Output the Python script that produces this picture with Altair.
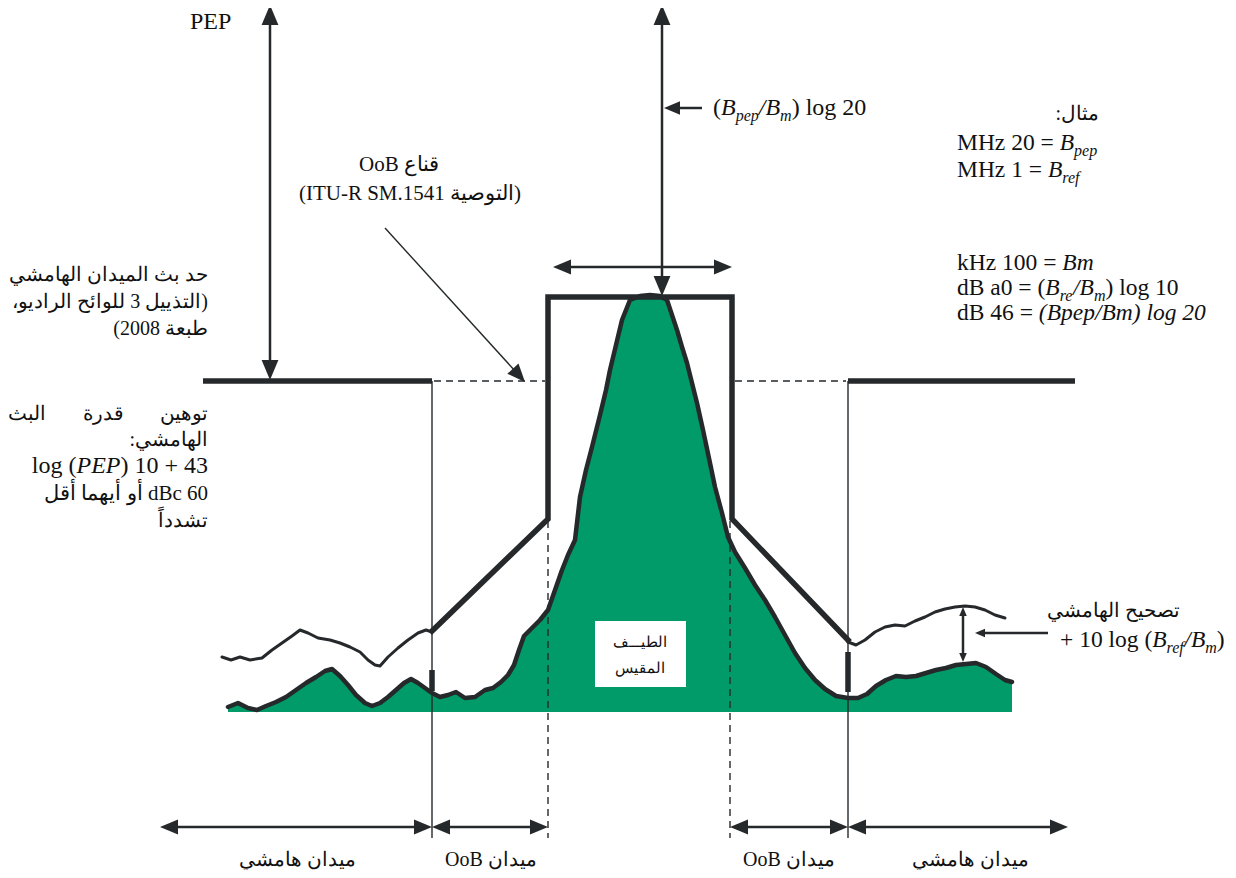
import math
import altair as alt
import pandas as pd

INK = "#25292b"
TXT = "#111111"
GREEN = "#009b68"
SERIF = "Liberation Serif"

# ---------------- data (frequency position, level) -------------
spectrum_trace = [
    (228, 707), (238, 703), (248, 708), (257, 710), (266, 706), (276, 702), (286, 697),
    (296, 690), (306, 683), (316, 677), (325, 671), (332, 669), (340, 676), (348, 685),
    (356, 695), (365, 703), (372, 706), (380, 703), (388, 697), (396, 690), (404, 683),
    (411, 679), (418, 683), (425, 688), (432, 693), (440, 697), (448, 695), (456, 692),
    (465, 698), (475, 697), (485, 690), (493, 688), (501, 682), (508, 675), (514, 665),
    (519, 650), (524, 636), (532, 628), (540, 620), (548, 610), (555, 590), (562, 570),
    (568, 555), (575, 540), (580, 497), (586, 470), (592, 447), (600, 415), (606, 390),
    (610, 370), (616, 345), (622, 320), (630, 300), (640, 296), (650, 295), (660, 296),
    (667, 300), (672, 315), (677, 330), (682, 347), (687, 363), (692, 383), (697, 403),
    (703, 430), (710, 463), (715, 487), (722, 513), (728, 537), (735, 552), (745, 568),
    (755, 585), (765, 600), (775, 617), (785, 635), (795, 653), (805, 668), (815, 680),
    (825, 689), (836, 696), (848, 698), (858, 698), (867, 694), (876, 686), (886, 680),
    (896, 676), (906, 677), (916, 676), (926, 673), (936, 670), (946, 668), (956, 665),
    (966, 664), (976, 663), (986, 667), (996, 674), (1005, 680), (1012, 682),
]
spectrum_floor = 712

upper_left_trace = [
    (222, 657), (231, 660), (240, 657), (250, 660), (262, 658), (272, 650), (282, 643),
    (292, 636), (300, 630), (308, 633), (318, 638), (330, 640), (340, 643), (350, 647),
    (360, 652), (368, 660), (375, 665), (380, 666), (388, 657), (398, 648), (408, 640),
    (418, 633), (426, 630), (432, 632),
]
upper_right_trace = [
    (848, 642), (856, 645), (865, 640), (875, 632), (885, 627), (895, 625), (905, 626),
    (915, 621), (925, 617), (935, 612), (945, 609), (955, 607), (965, 606), (975, 607),
    (985, 610), (995, 615), (1005, 618),
]

# OoB mask outline (corner points)
mask_outline = [(432, 631), (548, 519), (548, 297), (732, 297), (732, 519), (848, 640)]

# straight segments: x1, y1, x2, y2
thick_segments = [(203, 381, 432, 381), (848, 381, 1075, 381),
                  (432, 670, 432, 691), (848, 652, 848, 692)]
shaft_segments = [(270, 20, 270, 366), (662, 20, 662, 282), (676, 108, 702, 108),
                  (566, 267, 720, 267), (172, 827, 420, 827), (444, 827, 536, 827),
                  (742, 827, 836, 827), (860, 827, 1056, 827), (963, 614, 963, 656),
                  (980, 633, 1048, 633)]
thin_segments = [(262, 5, 672, 5), (432, 381, 432, 838), (848, 381, 848, 838),
                 (385, 228, 516, 372)]
dashed_segments = [(434, 381, 545, 381), (735, 381, 846, 381),
                   (548, 521, 548, 838), (730, 521, 730, 838)]

# arrow heads: tip x, tip y, direction (deg clockwise from up), length
arrow_heads = [(270, 5, 0, 20), (270, 380, 180, 20), (662, 5, 0, 20), (662, 296, 180, 20),
               (664, 108, 270, 16), (553, 267, 270, 18), (732, 267, 90, 18),
               (963, 607, 0, 9), (963, 662, 180, 9), (975, 633, 270, 10),
               (160, 827, 270, 18), (432, 827, 90, 18), (432, 827, 270, 18),
               (548, 827, 90, 18), (730, 827, 270, 18), (848, 827, 90, 18),
               (848, 827, 270, 18), (1068, 827, 90, 18)]
pointer_from, pointer_to = (385, 228), (525, 382)
pointer_angle = math.degrees(math.atan2(pointer_to[0] - pointer_from[0],
                                        -(pointer_to[1] - pointer_from[1]))) % 360
arrow_heads.append((pointer_to[0], pointer_to[1], pointer_angle, 18))

label_box = (595, 621, 686, 687)

RLE, PDF = "\u202b", "\u202c"


def rtl(s):
    """Arabic paragraph text: laid out right-to-left like the source document."""
    return RLE + s + PDF


# plain labels: text, x, baseline y, size, align
plain_labels = [
    ("PEP", 190, 29, 24, "left"),
    (rtl("مثال:"), 1099, 120, 20, "right"),
    (rtl("قناع OoB"), 399, 171, 21, "center"),
    (rtl("(التوصية ITU-R SM.1541)"), 410, 200, 21, "center"),
    (rtl("حد بث الميدان الهامشي"), 208, 281, 20, "right"),
    (rtl("(التذييل 3 للوائح الراديو،"), 208, 308, 20, "right"),
    (rtl("طبعة 2008)"), 208, 335, 20, "right"),
    ("توهين", 208, 420, 20, "right"),
    ("قدرة", 103, 420, 20, "center"),
    ("البث", 8, 420, 20, "left"),
    (rtl("الهامشي:"), 208, 446, 20, "right"),
    (rtl("60 dBc أو أيهما أقل"), 208, 500, 21, "right"),
    (rtl("تشدداً"), 208, 527, 20, "right"),
    ("الطيـــف", 640, 647, 15, "center"),
    ("المقيس", 640, 673, 15, "center"),
    (rtl("تصحيح الهامشي"), 1180, 617, 20, "right"),
    (rtl("ميدان هامشي"), 297, 866, 20, "center"),
    (rtl("ميدان OoB"), 491, 866, 20, "center"),
    (rtl("ميدان OoB"), 789, 866, 20, "center"),
    (rtl("ميدان هامشي"), 970, 866, 20, "center"),
]

# ---------------- rich (sub-scripted / italic) formula runs ----------------
REG = {' ': 250, '(': 333, ')': 333, '/': 278, '=': 564, '+': 564, '-': 333, '.': 250,
       'a': 444, 'b': 500, 'c': 444, 'd': 500, 'e': 444, 'f': 333, 'g': 500, 'h': 500,
       'i': 278, 'k': 500, 'l': 278, 'm': 778, 'n': 500, 'o': 500, 'p': 500, 'r': 333,
       's': 389, 't': 278, 'u': 500, 'y': 500, 'z': 444, 'B': 667, 'E': 611, 'H': 722,
       'M': 889, 'O': 722, 'P': 556, 'R': 667, 'S': 556, 'T': 611, 'U': 722, 'I': 333}
ITA = {' ': 250, '(': 333, ')': 333, '/': 278, 'a': 500, 'b': 500, 'e': 444, 'f': 278,
       'g': 500, 'l': 278, 'm': 722, 'o': 500, 'p': 500, 'r': 389, 'B': 611, 'E': 611,
       'P': 611}


def text_width(s, style, size):
    table = ITA if style == "italic" else REG
    return sum(table.get(ch, 500) for ch in s) / 1000.0 * size


def rich(x, y, parts, size=23.5, align="left"):
    sub = round(size * 0.68)
    items, cx = [], 0.0
    for txt, style, kind in parts:
        fs = size if kind == "b" else sub
        dy = 0 if kind == "b" else size * 0.27
        lead = len(txt) - len(txt.lstrip(" "))
        items.append(dict(x=cx + text_width(" " * lead, style, fs), y=y + dy,
                          text=txt.strip(" "), size=fs, style=style))
        cx += text_width(txt, style, fs)
    shift = x if align == "left" else x - cx
    for it in items:
        it["x"] += shift
    return items


N, I = "normal", "italic"
rich_items = []
rich_items += rich(713, 115, [("(", N, "b"), ("B", I, "b"), ("pep", I, "s"), ("/", I, "b"),
                              ("B", I, "b"), ("m", I, "s"), (")", N, "b"), (" log 20", N, "b")],
                   size=24)
rich_items += rich(957, 150, [("MHz 20 = ", N, "b"), ("B", I, "b"), ("pep", I, "s")])
rich_items += rich(957, 177, [("MHz 1 = ", N, "b"), ("B", I, "b"), ("ref", I, "s")])
rich_items += rich(957, 270, [("kHz 100 = ", N, "b"), ("Bm", I, "b")])
rich_items += rich(957, 295, [("dB a0 = (", N, "b"), ("B", I, "b"), ("re", I, "s"), ("/", I, "b"),
                              ("B", I, "b"), ("m", I, "s"), (")", N, "b"), (" log 10", N, "b")])
rich_items += rich(957, 320, [("dB 46 = ", N, "b"), ("(Bpep/Bm) log 20", I, "b")])
rich_items += rich(1060, 647, [("+ 10 log (", N, "b"), ("B", I, "b"), ("ref", I, "s"),
                               ("/", I, "b"), ("B", I, "b"), ("m", I, "s"), (")", N, "b")])
rich_items += rich(208, 473, [("log (", N, "b"), ("PEP", I, "b"), (") 10 + 43", N, "b")],
                   size=24, align="right")

# ---------------- chart ----------------
XS = alt.Scale(domain=[8, 1228], nice=False, zero=False)
YS = alt.Scale(domain=[8, 870], nice=False, zero=False, reverse=True)


def xy(xf="x", yf="y"):
    return dict(x=alt.X(f"{xf}:Q", scale=XS, axis=None),
                y=alt.Y(f"{yf}:Q", scale=YS, axis=None, stack=None))


def trace_df(points, name):
    return pd.DataFrame([dict(x=p[0], y=p[1], i=k, part=name) for k, p in enumerate(points)])


spec_df = trace_df(spectrum_trace, "spec")

area = alt.Chart(spec_df).mark_area(color=GREEN, fill=GREEN, opacity=1).encode(
    **xy(), y2=alt.datum(spectrum_floor))

box = alt.Chart(pd.DataFrame([dict(x=label_box[0], y=label_box[1], x2=label_box[2],
                                   y2=label_box[3])])).mark_rect(color="white").encode(
    **xy(), x2="x2:Q", y2="y2:Q")

upper_df = pd.concat([trace_df(upper_left_trace, "L"), trace_df(upper_right_trace, "R")])
upper = alt.Chart(upper_df).mark_line(color=INK, strokeWidth=3, strokeJoin="round",
                                      strokeCap="round").encode(
    **xy(), detail="part:N", order="i:Q")

outline = alt.Chart(spec_df).mark_line(color=INK, strokeWidth=4.5, strokeJoin="round",
                                       strokeCap="round").encode(**xy(), order="i:Q")

mask = alt.Chart(trace_df(mask_outline, "mask")).mark_line(
    color=INK, strokeWidth=5.5, strokeJoin="miter", strokeCap="square").encode(**xy(), order="i:Q")


def seg_layer(segs, width, dash=None):
    df = pd.DataFrame(segs, columns=["x", "y", "x2", "y2"])
    kw = dict(color=INK, strokeWidth=width)
    if dash:
        kw["strokeDash"] = dash
    return alt.Chart(df).mark_rule(**kw).encode(**xy(), x2="x2:Q", y2="y2:Q")


heads_df = pd.DataFrame([dict(x=a[0], y=a[1], angle=a[2], size=(2 * a[3]) ** 2)
                         for a in arrow_heads])
heads = alt.Chart(heads_df).mark_point(
    shape="M0,0 L0.42,1 L-0.42,1 Z", filled=True, color=INK, opacity=1, strokeWidth=0).encode(
    **xy(), angle=alt.Angle("angle:Q", scale=None), size=alt.Size("size:Q", scale=None, legend=None))


def text_layer(df, align, style):
    return alt.Chart(df).mark_text(align=align, baseline="alphabetic", font=SERIF,
                                   fontStyle=style, color=TXT).encode(
        **xy(), text="text:N", size=alt.Size("size:Q", scale=None, legend=None))


plain_df = pd.DataFrame(plain_labels, columns=["text", "x", "y", "size", "align"])
text_layers = [text_layer(plain_df[plain_df["align"] == a], a, "normal")
               for a in ["left", "center", "right"]]
rich_df = pd.DataFrame(rich_items)
text_layers += [text_layer(rich_df[rich_df["style"] == s], "left", s) for s in ["normal", "italic"]]

layers = [area, box,
          seg_layer(dashed_segments, 1.4, [7, 5]),
          seg_layer(thin_segments, 1.4),
          upper, outline,
          seg_layer(shaft_segments, 2.5),
          seg_layer(thick_segments, 5.5),
          mask, heads] + text_layers

chart = alt.layer(*layers).properties(
    width=1220, height=862, padding=0, background="white",
    autosize=alt.AutoSizeParams(type="none"),
).configure_view(stroke=None)

chart.save("out.html", embed_options={"renderer": "svg", "actions": False})
